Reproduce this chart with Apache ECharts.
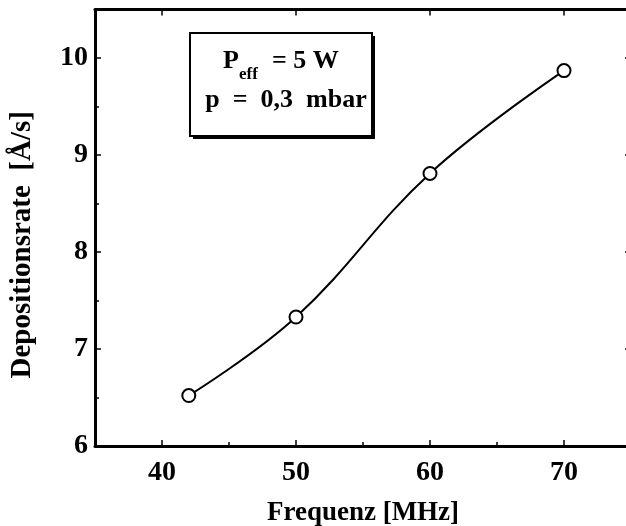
<!DOCTYPE html>
<html><head><meta charset="utf-8">
<script src="https://cdn.jsdelivr.net/npm/echarts@6/dist/echarts.min.js"></script>
<style>html,body{margin:0;padding:0;background:#fff}#c{width:626px;height:526px}</style>
</head><body><div id="c"></div>
<script>
// ---- data ----
const frequencies = [42, 50, 60, 70];
const rates = [6.52, 7.33, 8.81, 9.87];
const xMajorTicks = [40, 50, 60, 70];
const xMinorTicks = [45, 55, 65];
const yTicks = [6, 7, 8, 9, 10];
const xTitle = 'Frequenz [MHz]';
const yTitle = 'Depositionsrate  [Å/s]';
const boxLine1Main = 'P';
const boxLine1Sub = 'eff';
const boxLine1Rest = '= 5 W';
const boxLine2 = 'p  =  0,3  mbar';

const FONT = '"Liberation Serif", "Times New Roman", serif';
const chart = echarts.init(document.getElementById('c'), null, {renderer: 'canvas'});

const baseX = {
  type: 'value', min: 35, max: 75, interval: 5,
  splitLine: {show: false}
};
const baseY = {
  type: 'value', min: 6, max: 10.5, interval: 1,
  splitLine: {show: false}
};

chart.setOption({
  backgroundColor: '#fff',
  animation: false,
  grid: {left: 95, top: 9.5, width: 536, height: 436.5, containLabel: false, outerBoundsMode: 'none'},
  xAxis: [
    Object.assign({}, baseX, {
      position: 'bottom',
      axisLine: {lineStyle: {color: '#000', width: 3}},
      axisTick: {inside: true, length: 6, customValues: xMajorTicks, lineStyle: {color: '#000', width: 1.5}},
      axisLabel: {customValues: xMajorTicks, margin: 13, color: '#000', fontFamily: FONT, fontWeight: 'bold', fontSize: 28},
      name: xTitle, nameLocation: 'middle', nameGap: 54,
      nameTextStyle: {color: '#000', fontFamily: FONT, fontWeight: 'bold', fontSize: 27}
    }),
    Object.assign({}, baseX, {
      position: 'bottom',
      axisLine: {show: false},
      axisTick: {inside: true, length: 4, customValues: xMinorTicks, lineStyle: {color: '#000', width: 1.5}},
      axisLabel: {show: false}
    }),
    Object.assign({}, baseX, {
      position: 'top',
      axisLine: {lineStyle: {color: '#000', width: 3}},
      axisTick: {inside: true, length: 6, customValues: xMajorTicks, lineStyle: {color: '#000', width: 1.5}},
      axisLabel: {show: false}
    })
  ],
  yAxis: [
    Object.assign({}, baseY, {
      position: 'left',
      axisLine: {lineStyle: {color: '#000', width: 3}},
      axisTick: {inside: true, length: 6, customValues: yTicks, lineStyle: {color: '#000', width: 1.5}},
      minorTick: {show: true, splitNumber: 2, length: 4, lineStyle: {color: '#000', width: 1.5}},
      axisLabel: {customValues: yTicks, margin: 7, color: '#000', fontFamily: FONT, fontWeight: 'bold', fontSize: 28},
      name: yTitle, nameLocation: 'middle', nameGap: 58, nameRotate: 90,
      nameTextStyle: {color: '#000', fontFamily: FONT, fontWeight: 'bold', fontSize: 29, padding: [0, 34, 0, 0]}
    }),
    Object.assign({}, baseY, {
      position: 'right',
      axisLine: {lineStyle: {color: '#000', width: 3}},
      axisTick: {inside: true, length: 6, customValues: yTicks, lineStyle: {color: '#000', width: 1.5}},
      axisLabel: {show: false}
    })
  ],
  series: [{
    type: 'line',
    xAxisIndex: 0, yAxisIndex: 0,
    data: frequencies.map((f, i) => [f, rates[i]]),
    smooth: 0.4,
    symbol: 'circle', symbolSize: 13,
    itemStyle: {color: '#fff', borderColor: '#000', borderWidth: 2},
    lineStyle: {color: '#000', width: 2},
    z: 5
  }],
  graphic: [
    {type: 'rect', shape: {x: 193, y: 36, width: 182, height: 103}, style: {fill: '#000'}, z: 10},
    {type: 'rect', shape: {x: 190, y: 33, width: 182, height: 103}, style: {fill: '#fff', stroke: '#000', lineWidth: 2}, z: 11},
    {type: 'text', x: 223, y: 61.5, z: 12, style: {text: boxLine1Main, fill: '#000', font: 'bold 26px ' + FONT, textAlign: 'left', textVerticalAlign: 'middle'}},
    {type: 'text', x: 239, y: 75, z: 12, style: {text: boxLine1Sub, fill: '#000', font: 'bold 17px ' + FONT, textAlign: 'left', textVerticalAlign: 'middle'}},
    {type: 'text', x: 272, y: 61.5, z: 12, style: {text: boxLine1Rest, fill: '#000', font: 'bold 26px ' + FONT, textAlign: 'left', textVerticalAlign: 'middle'}},
    {type: 'text', x: 286, y: 100, z: 12, style: {text: boxLine2, fill: '#000', font: 'bold 26px ' + FONT, textAlign: 'center', textVerticalAlign: 'middle'}}
  ]
});
</script>
</body></html>
